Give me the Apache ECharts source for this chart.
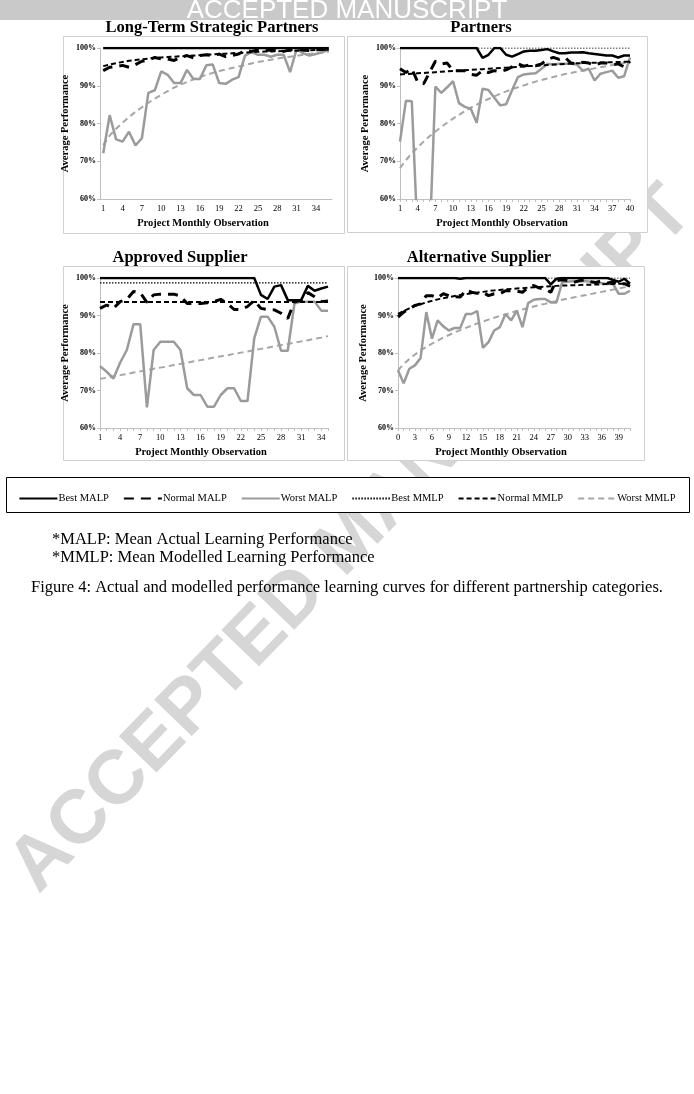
<!DOCTYPE html>
<html>
<head>
<meta charset="utf-8">
<script src="https://cdn.jsdelivr.net/npm/echarts@6/dist/echarts.min.js"></script>
<style>
  html, body { margin: 0; padding: 0; background: #fff; }
  #main { width: 694px; height: 1094px; }
</style>
</head>
<body>
<div id="main"></div>
<script>
// categories (project monthly observation)
function range(a, b) {
  let out = []
  for (let i = a; i <= b; i++) out.push(String(i))
  return out
}
const ltspCats = range(1, 36)
const partCats = range(1, 40)
const apprCats = range(1, 35)
const altCats = range(0, 41)

// Long-Term Strategic Partners
const ltspBestMALP = [100,100,100,100,100,100,100,100,100,100,100,100,100,100,100,100,100,100,100,100,100,100,100,100,100,100,100,100,100,100,100,100,100,100,100,100]
const ltspNormalMALP = [94.0,94.9,95.1,95.4,94.9,95.6,96.5,96.8,97.5,97.1,97.1,96.7,97.5,98.0,97.4,98.0,98.2,98.0,98.4,97.7,98.0,98.4,99.3,99.1,99.5,99.3,99.5,99.3,99.1,99.5,99.7,99.5,99.3,99.5,99.6,99.7]
const ltspWorstMALP = [72.1,82.2,75.8,75.2,77.8,74.2,76.1,88.1,88.8,93.8,92.9,90.7,90.7,94.2,91.8,91.8,95.4,95.6,90.7,90.5,91.6,92.3,98.0,98.9,98.2,98.2,97.7,98.2,98.2,93.6,99.7,98.6,98.0,98.4,98.9,99.5]
const ltspBestMMLP = [100,100,100,100,100,100,100,100,100,100,100,100,100,100,100,100,100,100,100,100,100,100,100,100,100,100,100,100,100,100,100,100,100,100,100,100]
const ltspNormalMMLP = [95.2,95.6,96.0,96.3,96.6,96.8,97.0,97.2,97.4,97.5,97.6,97.7,97.8,97.9,98.0,98.1,98.2,98.3,98.4,98.5,98.6,98.7,98.8,98.9,99.0,99.05,99.1,99.15,99.2,99.25,99.3,99.35,99.4,99.45,99.5,99.55]
const ltspWorstMMLP = [74.3,76.8,78.6,80.2,81.7,83.1,84.3,85.5,86.6,87.6,88.6,89.5,90.3,91.0,91.7,92.3,92.9,93.4,93.9,94.3,94.7,95.1,95.5,95.9,96.3,96.6,96.9,97.2,97.5,97.7,97.9,98.2,98.4,98.6,98.8,99.0]

// Partners
const partBestMALP = [100,100,100,100,100,100,100,100,100,100,100,100,100,100,97.4,98.2,100,100,98.2,97.7,98.4,99.1,99.3,99.3,99.5,99.7,99.1,98.6,98.6,98.8,98.8,98.9,98.6,98.4,98.2,98.0,98.0,97.5,98.0,98.0]
const partNormalMALP = [94.5,93.5,94.5,91.0,90.5,93.5,96.5,95.8,96.0,94.0,94.0,94.0,93.0,92.8,94.0,93.5,94.0,93.8,94.2,95.0,95.8,95.2,95.5,95.3,95.8,97.0,97.5,97.0,97.5,96.0,95.8,96.2,96.0,95.5,96.0,96.0,95.5,95.8,95.0,96.5]
const partWorstMALP = [75.2,86.0,85.9,49.3,45.0,47.8,89.8,88.1,89.6,91.2,85.4,84.4,83.9,80.2,89.2,88.9,86.8,84.8,85.1,88.8,92.3,93.0,93.2,93.3,94.5,95.8,95.6,95.8,95.8,95.8,95.6,94.0,94.5,91.4,93.2,93.6,94.0,92.1,92.5,97.5]
const partBestMMLP = [100,100,100,100,100,100,100,100,100,100,100,100,100,100,100,100,100,100,100,100,100,100,100,100,100,100,100,100,100,100,100,100,100,100,100,100,100,100,100,100]
const partNormalMMLP = [93.0,93.1,93.2,93.3,93.4,93.5,93.6,93.7,93.8,93.9,94.0,94.1,94.2,94.3,94.4,94.5,94.6,94.7,94.8,94.9,95.0,95.1,95.2,95.3,95.4,95.5,95.6,95.7,95.8,95.9,95.95,96.0,96.05,96.1,96.15,96.2,96.25,96.3,96.35,96.4]
const partWorstMMLP = [68.2,70.3,72.1,73.7,75.2,76.6,77.9,79.1,80.2,81.3,82.3,83.3,84.2,85.0,85.8,86.5,87.2,87.9,88.5,89.1,89.6,90.1,90.6,91.1,91.5,91.9,92.3,92.7,93.1,93.4,93.7,94.0,94.3,94.6,94.9,95.2,95.5,95.8,96.0,96.2]

// Approved Supplier
const apprBestMALP = [100,100,100,100,100,100,100,100,100,100,100,100,100,100,100,100,100,100,100,100,100,100,100,100,95.5,94.4,97.7,98.1,94.1,94.1,94.1,97.9,96.6,97.2,97.7]
const apprNormalMALP = [91.9,92.8,91.9,93.7,94.3,96.4,96.1,93.5,95.5,95.7,95.7,95.7,95.2,93.2,93.2,93.2,93.4,93.7,94.3,93.2,91.6,91.6,92.4,94.0,91.9,91.6,91.5,90.6,89.2,93.7,94.0,96.1,95.0,93.7,93.9]
const apprWorstMALP = [76.5,75.0,73.2,77.4,80.8,87.7,87.7,65.5,80.8,83.0,83.0,83.0,80.8,70.6,68.8,68.8,65.7,65.7,68.8,70.6,70.6,67.2,67.2,83.9,89.7,89.7,87.0,80.6,80.6,93.2,93.7,93.7,93.7,91.3,91.3]
const apprBestMMLP = [98.7,98.7,98.7,98.7,98.7,98.7,98.7,98.7,98.7,98.7,98.7,98.7,98.7,98.7,98.7,98.7,98.7,98.7,98.7,98.7,98.7,98.7,98.7,98.7,98.7,98.7,98.7,98.7,98.7,98.7,98.7,98.7,98.7,98.7,98.7]
const apprNormalMMLP = [93.6,93.6,93.6,93.6,93.6,93.6,93.6,93.6,93.6,93.6,93.6,93.6,93.6,93.6,93.6,93.6,93.6,93.6,93.6,93.6,93.6,93.6,93.6,93.6,93.6,93.6,93.6,93.6,93.6,93.6,93.6,93.6,93.6,93.6,93.6]
const apprWorstMMLP = [73.1,73.4,73.8,74.1,74.4,74.8,75.1,75.4,75.8,76.1,76.4,76.8,77.1,77.4,77.8,78.1,78.4,78.8,79.1,79.4,79.8,80.1,80.4,80.8,81.1,81.4,81.8,82.1,82.4,82.8,83.1,83.4,83.8,84.1,84.5]

// Alternative Supplier
const altBestMALP = [100,100,100,100,100,100,100,100,100,100,100,99.8,100,100,100,100,100,100,100,100,100,100,100,100,100,100,100,98.3,99.8,100,100,100,100,100,100,100,100,100,99.5,99.0,99.8,98.5]
const altNormalMALP = [89.6,90.9,91.8,92.7,93.1,95.3,95.3,94.7,95.8,95.3,95.0,94.9,96.8,96.2,95.9,96.2,95.3,95.8,95.8,96.6,96.6,96.5,96.2,97.5,98.0,97.3,97.1,96.2,99.3,99.5,99.3,98.8,99.3,99.5,99.0,98.8,99.3,98.6,99.0,98.2,98.5,97.8]
const altWorstMALP = [75.4,71.9,75.8,76.7,78.7,90.9,83.8,88.7,87.1,86.0,86.7,86.7,90.4,90.4,91.2,81.4,82.9,86.0,86.9,90.4,88.7,91.3,86.9,93.3,94.2,94.4,94.4,93.5,93.5,98.8,99.0,99.2,99.0,99.2,99.0,98.8,98.6,98.4,98.4,95.8,95.8,96.6]
const altBestMMLP = [100,100,100,100,100,100,100,100,100,100,100,100,100,100,100,100,100,100,100,100,100,100,100,100,100,100,100,100,100,100,100,100,100,100,100,100,100,100,100,100,100,100]
const altNormalMMLP = [90.4,91.2,91.9,92.5,93.0,93.5,93.9,94.3,94.6,94.9,95.2,95.5,95.7,95.9,96.1,96.3,96.5,96.7,96.8,97.0,97.1,97.2,97.3,97.4,97.5,97.6,97.7,97.8,97.9,98.0,98.0,98.1,98.1,98.2,98.2,98.3,98.3,98.4,98.4,98.5,98.5,98.6]
const altWorstMMLP = [75.4,77.0,78.4,79.6,80.7,81.6,82.5,83.3,84.1,84.8,85.5,86.1,86.7,87.3,87.9,88.4,88.9,89.4,89.9,90.3,90.8,91.2,91.6,92.0,92.4,92.8,93.1,93.5,93.8,94.2,94.5,94.8,95.1,95.4,95.7,96.0,96.3,96.6,96.9,97.2,97.5,97.8]

const SERIF = 'Liberation Serif'
const SANS = 'Liberation Sans'

// line look per series name
const STYLES = {
  'Worst MMLP': { color: '#a6a6a6', width: 2, type: [6, 4] },
  'Worst MALP': { color: '#9b9b9b', width: 2.5, type: 'solid' },
  'Normal MMLP': { color: '#000', width: 2, type: [5, 3] },
  'Normal MALP': { color: '#000', width: 3, type: [10, 7] },
  'Best MMLP': { color: '#000', width: 1.2, type: [1.5, 1.5] },
  'Best MALP': { color: '#000', width: 2.5, type: 'solid' }
}
const LEGEND_ORDER = ['Best MALP', 'Normal MALP', 'Worst MALP', 'Best MMLP', 'Normal MMLP', 'Worst MMLP']

const panels = [
  { cats: ltspCats, gap: true,
    grid: { left: 100, top: 48, width: 232, height: 151 },
    data: { 'Best MALP': ltspBestMALP, 'Normal MALP': ltspNormalMALP, 'Worst MALP': ltspWorstMALP,
      'Best MMLP': ltspBestMMLP, 'Normal MMLP': ltspNormalMMLP, 'Worst MMLP': ltspWorstMMLP } },
  { cats: partCats, gap: false,
    grid: { left: 400, top: 48, width: 230, height: 151 },
    data: { 'Best MALP': partBestMALP, 'Normal MALP': partNormalMALP, 'Worst MALP': partWorstMALP,
      'Best MMLP': partBestMMLP, 'Normal MMLP': partNormalMMLP, 'Worst MMLP': partWorstMMLP } },
  { cats: apprCats, gap: false,
    grid: { left: 100, top: 278, width: 228, height: 150 },
    data: { 'Best MALP': apprBestMALP, 'Normal MALP': apprNormalMALP, 'Worst MALP': apprWorstMALP,
      'Best MMLP': apprBestMMLP, 'Normal MMLP': apprNormalMMLP, 'Worst MMLP': apprWorstMMLP } },
  { cats: altCats, gap: false,
    grid: { left: 398, top: 278, width: 232, height: 150 },
    data: { 'Best MALP': altBestMALP, 'Normal MALP': altNormalMALP, 'Worst MALP': altWorstMALP,
      'Best MMLP': altBestMMLP, 'Normal MMLP': altNormalMMLP, 'Worst MMLP': altWorstMMLP } }
]

const DRAW_ORDER = ['Worst MMLP', 'Worst MALP', 'Normal MMLP', 'Normal MALP', 'Best MMLP', 'Best MALP']

let grids = [], xAxes = [], yAxes = [], series = []
panels.forEach(function (p, i) {
  grids.push(p.grid)
  xAxes.push({
    type: 'category', gridIndex: i, data: p.cats, boundaryGap: p.gap,
    name: 'Project Monthly Observation', nameLocation: 'middle', nameGap: 19,
    // axis title sits centred on the whole panel, a bit left of the plot centre
    nameTextStyle: { fontFamily: SERIF, fontWeight: 'bold', fontSize: 10.5, color: '#000', padding: [0, 26, 0, 0] },
    axisLine: { lineStyle: { color: '#bfbfbf' } },
    axisTick: { interval: 0, length: 3, lineStyle: { color: '#bfbfbf' } },
    axisLabel: { interval: 2, fontFamily: SERIF, fontSize: 8.5, color: '#000', margin: 5 }
  })
  yAxes.push({
    type: 'value', gridIndex: i, min: 60, max: 100, interval: 10,
    name: 'Average Performance', nameLocation: 'middle', nameGap: 29,
    nameTextStyle: { fontFamily: SERIF, fontWeight: 'bold', fontSize: 10.5, color: '#000' },
    axisLine: { show: true, lineStyle: { color: '#bfbfbf' } },
    axisTick: { show: true, length: 3, lineStyle: { color: '#bfbfbf' } },
    splitLine: { show: false },
    axisLabel: { formatter: '{value}%', fontFamily: SERIF, fontWeight: 'bold', fontSize: 8, color: '#000', margin: 4 }
  })
  DRAW_ORDER.forEach(function (name) {
    const s = STYLES[name]
    series.push({
      name: name, type: 'line', xAxisIndex: i, yAxisIndex: i,
      data: p.data[name], symbol: 'none', clip: true, silent: true,
      color: s.color,
      lineStyle: { color: s.color, width: s.width, type: s.type }
    })
  })
})

const titleText = function (txt, x, y) {
  return { type: 'text', x: x, y: y, z: 10,
    style: { text: txt, font: 'bold 16.5px "' + SERIF + '"', fill: '#000', align: 'center', verticalAlign: 'middle' } }
}
// panel frames are opaque, so the watermark only shows between them
const boxRect = function (x, y, w, h, stroke) {
  return { type: 'rect', z: -2, shape: { x: x, y: y, width: w, height: h },
    style: { fill: '#fff', stroke: stroke, lineWidth: 1 } }
}

const chart = echarts.init(document.getElementById('main'), null, { renderer: 'canvas' })
chart.setOption({
  backgroundColor: '#fff',
  animation: false,
  grid: grids,
  xAxis: xAxes,
  yAxis: yAxes,
  series: series,
  legend: {
    data: LEGEND_ORDER, top: 488, left: 'center', itemWidth: 38, itemHeight: 8, itemGap: 14,
    selectedMode: false,
    itemStyle: { opacity: 0 },
    textStyle: { fontFamily: SERIF, fontSize: 10.5, color: '#000', padding: [0, 0, 0, -4] }
  },
  graphic: [
    // diagonal watermark
    { type: 'text', x: 352, y: 540, z: -5, rotation: Math.PI * 46 / 180,
      style: { text: 'ACCEPTED MANUSCRIPT', font: 'bold 76px "' + SANS + '"', fill: '#d6d6d6', align: 'center', verticalAlign: 'middle' } },
    // header band
    { type: 'rect', z: 5, shape: { x: 0, y: 0, width: 694, height: 20 }, style: { fill: '#c9c9c9' } },
    { type: 'text', x: 347, y: 11, z: 6,
      style: { text: 'ACCEPTED MANUSCRIPT', font: '26px "' + SANS + '"', fill: '#fff', align: 'center', verticalAlign: 'middle' } },
    titleText('Long-Term Strategic Partners', 212, 28),
    titleText('Partners', 481, 28),
    titleText('Approved Supplier', 180, 258),
    titleText('Alternative Supplier', 479, 258),
    boxRect(63.5, 36.5, 281, 197, '#d0d0d0'),
    boxRect(347.5, 36.5, 300, 196, '#d0d0d0'),
    boxRect(63.5, 266.5, 281, 194, '#d0d0d0'),
    boxRect(347.5, 266.5, 297, 194, '#d0d0d0'),
    boxRect(6.5, 477.5, 683, 35, '#000'),
    { type: 'text', x: 52, y: 540, z: 10,
      style: { text: '*MALP: Mean Actual Learning Performance', font: '16.5px "' + SERIF + '"', fill: '#000', verticalAlign: 'middle' } },
    { type: 'text', x: 52, y: 558, z: 10,
      style: { text: '*MMLP: Mean Modelled Learning Performance', font: '16.5px "' + SERIF + '"', fill: '#000', verticalAlign: 'middle' } },
    { type: 'text', x: 347, y: 588, z: 10,
      style: { text: 'Figure 4: Actual and modelled performance learning curves for different partnership categories.', font: '16.5px "' + SERIF + '"', fill: '#000', align: 'center', verticalAlign: 'middle' } }
  ]
})
</script>
</body>
</html>
